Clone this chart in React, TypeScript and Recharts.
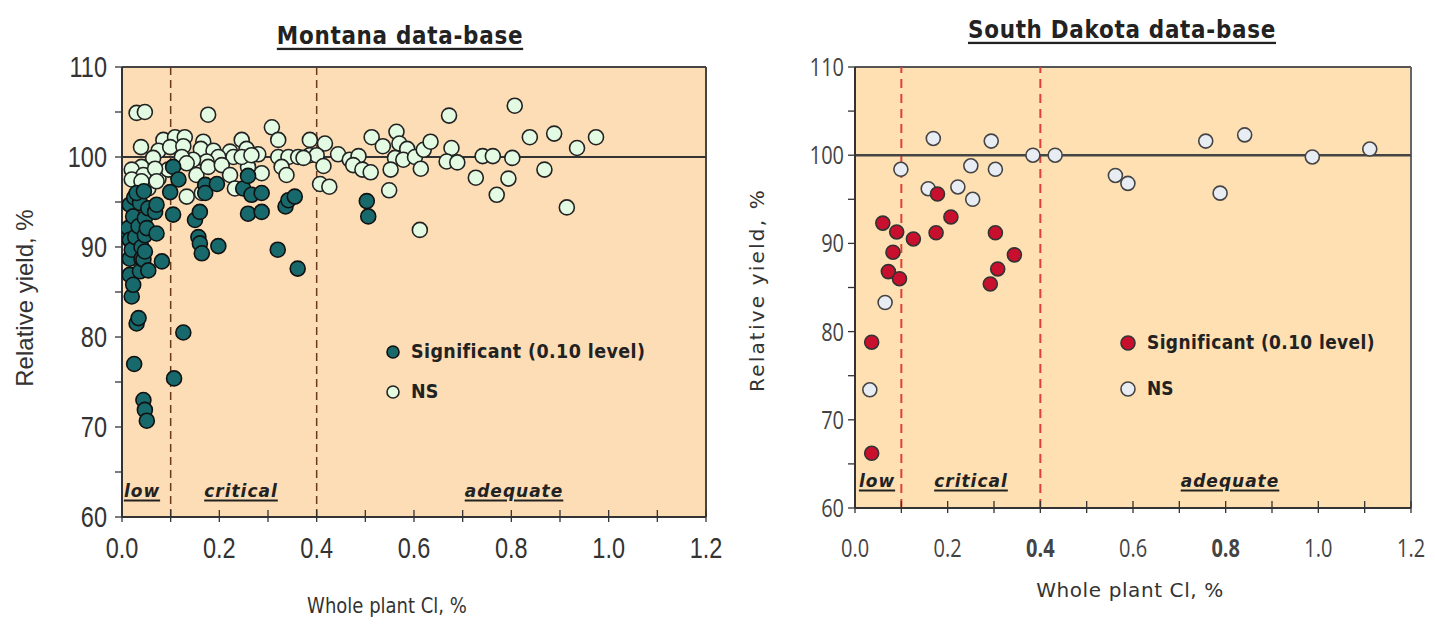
import React from 'react';
import { ScatterChart, Scatter, XAxis, YAxis, CartesianGrid, ReferenceLine } from 'recharts';

// ---------- axis ticks ----------
const xTicks = [0, 0.1, 0.2, 0.3, 0.4, 0.5, 0.6, 0.7, 0.8, 0.9, 1.0, 1.1, 1.2];
const yTicks = [60, 65, 70, 75, 80, 85, 90, 95, 100, 105, 110];
const sdBoldXLabels = [0.4, 0.8];
const cutoffs = [0.1, 0.4];

// ---------- Montana data-base ----------
const mtSignificant: [number, number][] = [
  [0.006, 91.5], [0.013, 92.1], [0.016, 94.7], [0.016, 90.8], [0.016, 88.7], [0.016, 86.9],
  [0.020, 89.7], [0.020, 84.5], [0.023, 93.4], [0.023, 85.8], [0.025, 95.5], [0.025, 77.0],
  [0.027, 91.1], [0.030, 81.5], [0.034, 82.1], [0.034, 92.3], [0.037, 94.9], [0.037, 87.3],
  [0.040, 90.0], [0.040, 88.7], [0.044, 88.6], [0.044, 73.0], [0.047, 93.2], [0.047, 91.3],
  [0.047, 89.5], [0.047, 71.9], [0.051, 92.1], [0.051, 70.7], [0.054, 94.3], [0.054, 87.4],
  [0.068, 93.9], [0.071, 94.7], [0.071, 91.5], [0.082, 88.4], [0.030, 96.0], [0.045, 96.2],
  [0.099, 96.1], [0.105, 98.9], [0.116, 97.5], [0.105, 93.6], [0.107, 75.4], [0.126, 80.5],
  [0.150, 93.0], [0.160, 93.9], [0.157, 91.1], [0.160, 90.4], [0.164, 89.3], [0.171, 96.9],
  [0.171, 96.0], [0.195, 97.0], [0.198, 90.1], [0.249, 96.5], [0.259, 97.9], [0.266, 95.8],
  [0.287, 96.0], [0.259, 93.7], [0.287, 93.9], [0.320, 89.7], [0.336, 94.5], [0.342, 95.2],
  [0.355, 95.6], [0.361, 87.6], [0.503, 95.1], [0.506, 93.4],
];
const mtNS: [number, number][] = [
  [0.030, 104.9], [0.047, 105.0], [0.177, 104.7], [0.308, 103.3], [0.321, 101.9], [0.386, 101.9],
  [0.085, 101.9], [0.109, 102.2], [0.129, 102.2], [0.167, 101.7], [0.246, 101.9], [0.039, 101.1],
  [0.075, 100.7], [0.099, 101.1], [0.126, 101.2], [0.162, 100.9], [0.188, 100.7], [0.222, 100.6],
  [0.256, 100.9], [0.280, 100.3], [0.321, 100.0], [0.342, 100.0], [0.362, 100.0], [0.386, 100.2],
  [0.198, 100.0], [0.229, 100.0], [0.174, 99.5], [0.146, 99.7], [0.123, 100.0], [0.064, 99.9],
  [0.040, 98.9], [0.020, 98.6], [0.044, 98.0], [0.020, 97.5], [0.075, 97.6], [0.095, 98.6],
  [0.133, 99.3], [0.153, 98.0], [0.177, 98.9], [0.205, 99.1], [0.222, 98.0], [0.133, 95.6],
  [0.164, 96.0], [0.232, 96.5], [0.287, 98.2], [0.259, 98.9], [0.246, 100.0], [0.266, 100.2],
  [0.328, 98.9], [0.338, 98.0], [0.054, 96.5], [0.068, 98.7], [0.040, 97.3], [0.071, 97.3],
  [0.417, 101.5], [0.400, 100.2], [0.414, 99.0], [0.407, 97.0], [0.426, 96.7], [0.373, 99.9],
  [0.444, 100.3], [0.468, 99.7], [0.486, 100.1], [0.475, 99.1], [0.494, 98.6], [0.511, 98.3],
  [0.513, 102.2], [0.536, 101.2], [0.564, 102.8], [0.570, 101.5], [0.586, 100.9], [0.561, 99.9],
  [0.578, 99.7], [0.552, 98.6], [0.549, 96.3], [0.602, 100.0], [0.614, 98.7], [0.620, 100.8],
  [0.634, 101.7], [0.612, 91.9], [0.672, 104.6], [0.677, 101.0], [0.667, 99.5], [0.689, 99.4],
  [0.727, 97.7], [0.741, 100.1], [0.762, 100.1], [0.770, 95.8], [0.794, 97.6], [0.802, 99.9],
  [0.807, 105.7], [0.838, 102.2], [0.868, 98.6], [0.888, 102.6], [0.914, 94.4], [0.935, 101.0],
  [0.974, 102.2],
];

// ---------- South Dakota data-base ----------
const sdSignificant: [number, number][] = [
  [0.060, 92.3], [0.090, 91.3], [0.126, 90.5], [0.175, 91.2], [0.178, 95.6], [0.207, 93.0],
  [0.303, 91.2], [0.344, 88.7], [0.082, 89.0], [0.072, 86.8], [0.096, 86.0], [0.308, 87.1],
  [0.292, 85.4], [0.036, 78.8], [0.036, 66.2],
];
const sdNS: [number, number][] = [
  [0.169, 101.9], [0.294, 101.6], [0.384, 100.0], [0.432, 100.0], [0.099, 98.4], [0.250, 98.8],
  [0.303, 98.4], [0.158, 96.2], [0.222, 96.4], [0.254, 95.0], [0.562, 97.7], [0.589, 96.8],
  [0.757, 101.6], [0.841, 102.3], [0.788, 95.7], [0.987, 99.8], [1.111, 100.7], [0.065, 83.3],
  [0.032, 73.4],
];

const toPts = (a: [number, number][]) => a.map(([x, y]) => ({ x, y }));

const dot = (fill: string, stroke: string, r: number) => (p: any) =>
  p.cx == null ? <g /> : <circle cx={p.cx} cy={p.cy} r={r} fill={fill} stroke={stroke} strokeWidth={1.6} />;

type Style = { family: string; size: number; sy: number; color: string; labelDy: number; yLabelDx: number; bold?: number[] };

const makeXTick = (st: Style) => (props: any) => {
  const { x, y, payload } = props;
  const v = payload.value;
  const labelled = Math.round(v * 10) % 2 === 0;
  const bold = (st.bold || []).some((b) => Math.abs(b - v) < 1e-6);
  return (
    <g>
      <line x1={x} x2={x} y1={y - 7} y2={y + 5} stroke="#333" strokeWidth={1.3} />
      {labelled && (
        <g transform={`translate(${x},${y + st.labelDy}) scale(1,${st.sy})`}>
          <text x={0} y={0} dy="0.36em" textAnchor="middle" fontFamily={st.family} fontSize={st.size}
            fontWeight={bold ? 700 : 400} fill={st.color}>{v.toFixed(1)}</text>
        </g>
      )}
    </g>
  );
};

const makeYTick = (st: Style) => (props: any) => {
  const { x, y, payload } = props;
  const v = payload.value;
  const labelled = v % 10 === 0;
  return (
    <g>
      <line x1={x - 7} x2={x} y1={y} y2={y} stroke="#333" strokeWidth={1.3} />
      {labelled && (
        <g transform={`translate(${x - st.yLabelDx},${y}) scale(1,${st.sy})`}>
          <text x={0} y={0} dy="0.36em" textAnchor="end" fontFamily={st.family} fontSize={st.size} fill={st.color}>{v}</text>
        </g>
      )}
    </g>
  );
};

type TxtProps = {
  x: number; y: number; children: React.ReactNode; size: number; family?: string; weight?: number;
  italic?: boolean; underline?: boolean; color?: string; sy?: number; rotate?: number; start?: boolean; ls?: number;
};
const Txt = ({ x, y, children, size, family = 'DejaVu Sans', weight = 400, italic, underline, color = '#222', sy = 1, rotate = 0, start, ls = 0 }: TxtProps) => (
  <div
    style={{
      position: 'absolute', left: x, top: y, whiteSpace: 'nowrap', lineHeight: 1,
      transform: `translate(${start ? '0' : '-50%'},-50%) rotate(${rotate}deg) scale(1,${sy})`,
      transformOrigin: start ? 'left center' : 'center center',
      fontSize: size, fontFamily: family, fontWeight: weight, fontStyle: italic ? 'italic' : 'normal',
      textDecoration: underline ? 'underline' : 'none', textDecorationThickness: underline ? 2 : undefined,
      textUnderlineOffset: 3, color, letterSpacing: ls,
    }}
  >
    {children}
  </div>
);

const Marker = ({ x, y, r, fill, stroke }: { x: number; y: number; r: number; fill: string; stroke: string }) => (
  <svg style={{ position: 'absolute', left: x - r - 2, top: y - r - 2 }} width={2 * r + 4} height={2 * r + 4}>
    <circle cx={r + 2} cy={r + 2} r={r} fill={fill} stroke={stroke} strokeWidth={1.6} />
  </svg>
);

const mtStyle: Style = { family: 'Liberation Sans', size: 23.5, sy: 1.22, color: '#333', labelDy: 31, yLabelDx: 15 };
const sdStyle: Style = { family: 'Open Sans', size: 20, sy: 1.25, color: '#444', labelDy: 40, yLabelDx: 11, bold: sdBoldXLabels };

export default function App() {
  return (
    <div style={{ position: 'absolute', left: 0, top: 0, width: 1435, height: 624, background: '#fff', overflow: 'hidden' }}>
      {/* Montana chart */}
      <div style={{ position: 'absolute', left: 0, top: 0 }}>
        <ScatterChart width={740} height={624} margin={{ top: 67, left: 62, right: 34, bottom: 77 }}>
          <CartesianGrid horizontal={false} vertical={false} fill="#FCDDB5" fillOpacity={1} />
          <XAxis type="number" dataKey="x" domain={[0, 1.2]} ticks={xTicks} interval={0} allowDataOverflow
            height={30} tickSize={0} tickMargin={0} tickLine={false} axisLine={{ stroke: '#333', strokeWidth: 2 }}
            tick={makeXTick(mtStyle)} />
          <YAxis type="number" dataKey="y" domain={[60, 110]} ticks={yTicks} interval={0} allowDataOverflow
            width={60} tickSize={0} tickMargin={0} tickLine={false} axisLine={{ stroke: '#333', strokeWidth: 2 }}
            tick={makeYTick(mtStyle)} />
          <ReferenceLine y={110} stroke="#444" strokeWidth={2} />
          <ReferenceLine x={1.2} stroke="#444" strokeWidth={2} />
          {cutoffs.map((c) => (
            <ReferenceLine key={c} x={c} stroke="#6B3A1E" strokeWidth={1.5} strokeDasharray="8 5" />
          ))}
          <ReferenceLine y={100} stroke="#333" strokeWidth={2} />
          <Scatter name="NS" data={toPts(mtNS)} isAnimationActive={false} shape={dot('#E3FBE2', '#222', 7.5)} />
          <Scatter name="Significant (0.10 level)" data={toPts(mtSignificant)} isAnimationActive={false} shape={dot('#17696B', '#111', 7.5)} />
        </ScatterChart>
      </div>

      {/* South Dakota chart */}
      <div style={{ position: 'absolute', left: 740, top: 0 }}>
        <ScatterChart width={695} height={624} margin={{ top: 67, left: 55, right: 24, bottom: 86 }}>
          <CartesianGrid horizontal={false} vertical={false} fill="#FEE0B3" fillOpacity={1} />
          <XAxis type="number" dataKey="x" domain={[0, 1.2]} ticks={xTicks} interval={0} allowDataOverflow
            height={30} tickSize={0} tickMargin={0} tickLine={false} axisLine={{ stroke: '#333', strokeWidth: 2 }}
            tick={makeXTick(sdStyle)} />
          <YAxis type="number" dataKey="y" domain={[60, 110]} ticks={yTicks} interval={0} allowDataOverflow
            width={60} tickSize={0} tickMargin={0} tickLine={false} axisLine={{ stroke: '#333', strokeWidth: 2 }}
            tick={makeYTick(sdStyle)} />
          <ReferenceLine y={110} stroke="#555" strokeWidth={2} />
          <ReferenceLine x={1.2} stroke="#666" strokeWidth={2} />
          {cutoffs.map((c) => (
            <ReferenceLine key={c} x={c} stroke="#E0403A" strokeWidth={2} strokeDasharray="9 6" />
          ))}
          <ReferenceLine y={100} stroke="#444" strokeWidth={2.5} />
          <Scatter name="NS" data={toPts(sdNS)} isAnimationActive={false} shape={dot('#E8ECF3', '#444', 7)} />
          <Scatter name="Significant (0.10 level)" data={toPts(sdSignificant)} isAnimationActive={false} shape={dot('#C8102E', '#333', 7)} />
        </ScatterChart>
      </div>

      {/* Montana texts */}
      <Txt x={400} y={36} size={21.5} weight={700} underline ls={0.7} sy={1.15}>Montana data-base</Txt>
      <Txt x={25} y={298} size={24} family="Liberation Sans" color="#333" rotate={-90}>Relative yield, %</Txt>
      <Txt x={387} y={606} size={18} color="#333" sy={1.2}>Whole plant Cl, %</Txt>
      <Txt x={142} y={491} size={17} weight={700} italic underline ls={1}>low</Txt>
      <Txt x={241} y={491} size={17} weight={700} italic underline ls={1}>critical</Txt>
      <Txt x={514} y={491} size={17} weight={700} italic underline ls={1}>adequate</Txt>
      <Marker x={393} y={352} r={6} fill="#17696B" stroke="#111" />
      <Txt x={411} y={352} size={17.5} weight={700} start ls={0.4} sy={1.1}>Significant (0.10 level)</Txt>
      <Marker x={393} y={392} r={6} fill="#E3FBE2" stroke="#222" />
      <Txt x={411} y={392} size={17.5} weight={700} start sy={1.1}>NS</Txt>

      {/* South Dakota texts */}
      <Txt x={1122} y={30} size={21.5} weight={700} underline ls={0.7} sy={1.15}>South Dakota data-base</Txt>
      <Txt x={757} y={290} size={20} color="#333" rotate={-90} ls={2.2}>Relative yield, %</Txt>
      <Txt x={1130} y={590} size={20} color="#333" ls={0.6}>Whole plant Cl, %</Txt>
      <Txt x={877} y={481} size={17} weight={700} italic underline ls={1}>low</Txt>
      <Txt x={971} y={481} size={17} weight={700} italic underline ls={1}>critical</Txt>
      <Txt x={1230} y={481} size={17} weight={700} italic underline ls={1}>adequate</Txt>
      <Marker x={1128} y={343} r={7} fill="#C8102E" stroke="#333" />
      <Txt x={1147} y={343} size={17} weight={700} start ls={0.4} sy={1.1}>Significant (0.10 level)</Txt>
      <Marker x={1128} y={389} r={7} fill="#E8ECF3" stroke="#444" />
      <Txt x={1147} y={389} size={17} weight={700} start sy={1.1}>NS</Txt>
    </div>
  );
}
